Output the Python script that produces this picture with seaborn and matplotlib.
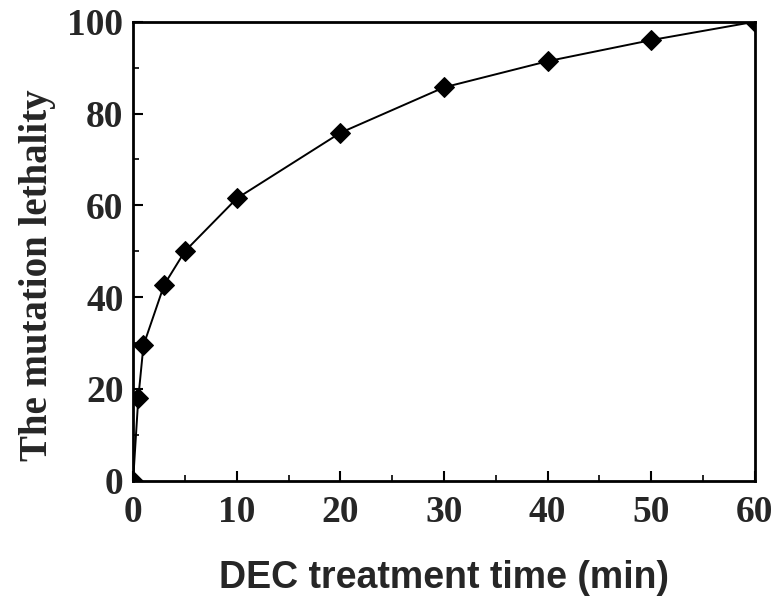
import matplotlib
matplotlib.use("Agg")
import matplotlib.pyplot as plt
import seaborn as sns
import pandas as pd
from matplotlib.ticker import MultipleLocator

time_min = [0, 0.5, 1, 3, 5, 10, 20, 30, 40, 50, 60]
lethality = [0, 18, 29.5, 42.7, 50, 61.5, 75.8, 85.7, 91.4, 96, 100]

sns.set_theme(style="ticks")
plt.rcParams['font.family'] = ['Liberation Serif', 'DejaVu Serif']

df = pd.DataFrame({"t": time_min, "y": lethality})

fig = plt.figure(figsize=(7.83, 6.04), dpi=100)
ax = fig.add_axes([0.170, 0.204, 0.794, 0.760])
sns.lineplot(data=df, x="t", y="y", ax=ax, color="black", marker="D",
             markersize=10, linewidth=1.4, markeredgecolor="black")

ax.set_xlim(0, 60)
ax.set_ylim(0, 100)
ax.xaxis.set_major_locator(MultipleLocator(10))
ax.xaxis.set_minor_locator(MultipleLocator(5))
ax.yaxis.set_major_locator(MultipleLocator(20))
ax.yaxis.set_minor_locator(MultipleLocator(10))
ax.tick_params(which="both", direction="in", top=False, right=False, color="black")
ax.tick_params(which="major", length=7, width=1.5, labelsize=27)
ax.tick_params(axis="y", which="major", pad=7)
ax.tick_params(axis="x", which="major", pad=10)
ax.tick_params(which="minor", length=4, width=1.2)
for lab in ax.get_xticklabels() + ax.get_yticklabels():
    lab.set_fontweight("bold")
    lab.set_family(['Liberation Serif'])
for sp in ax.spines.values():
    sp.set_linewidth(2)
    sp.set_color("black")

ax.set_xlabel("DEC treatment time (min)", fontsize=27, fontweight="bold",
              family=['Liberation Sans'], labelpad=22)
ax.set_ylabel("The mutation lethality", fontsize=28, fontweight="bold",
              family=['Liberation Serif'], labelpad=8)
ax.yaxis.label.set_y(0.447)

fig.savefig("out.png", dpi=100)
